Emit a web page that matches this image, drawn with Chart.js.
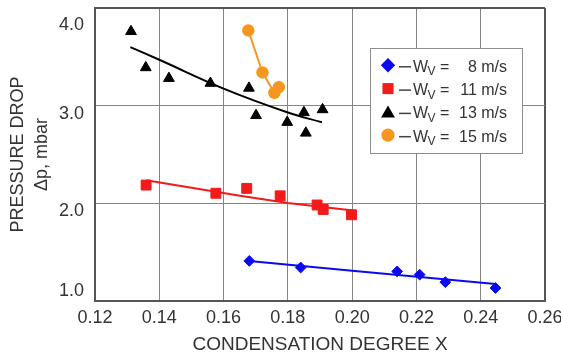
<!DOCTYPE html>
<html><head><meta charset="utf-8">
<script src="https://cdn.jsdelivr.net/npm/chart.js@4.4.1/dist/chart.umd.min.js"></script>
<style>html,body{margin:0;padding:0;background:#fff;}#wrap{width:561px;height:360px;}</style>
</head><body><div id="wrap"><canvas id="c" width="561" height="360"></canvas></div>
<script>
// ---- data ----
const xTicks = [0.12, 0.14, 0.16, 0.18, 0.20, 0.22, 0.24, 0.26];
const yTicks = [1.0, 2.0, 3.0, 4.0];
const xTitle = 'CONDENSATION DEGREE X';
const yTitle = ['PRESSURE DROP', 'Δp, mbar'];
const speedLabels = ['8 m/s', '11 m/s', '13 m/s', '15 m/s'];

const x8 = [0.168, 0.184, 0.214, 0.221, 0.229, 0.2446];
const y8 = [1.41, 1.343, 1.303, 1.27, 1.193, 1.133];
const fit8X = [0.168, 0.200, 0.2446];
const fit8Y = [1.41, 1.31, 1.175];

const x11 = [0.1359, 0.1576, 0.1672, 0.1776, 0.1891, 0.1910, 0.1998];
const y11 = [2.187, 2.103, 2.153, 2.077, 1.983, 1.937, 1.883];
const fit11X = [0.1359, 0.1651, 0.18, 0.2003];
const fit11Y = [2.237, 2.077, 2.003, 1.927];

const x13 = [0.1312, 0.1358, 0.1430, 0.1559, 0.1679, 0.1701, 0.1798, 0.1850, 0.1856, 0.1908];
const y13 = [3.76, 3.39, 3.28, 3.23, 3.18, 2.90, 2.83, 2.93, 2.72, 2.96];
const fit13X = [0.1310, 0.14, 0.16, 0.18, 0.1906];
const fit13Y = [3.60, 3.47, 3.175, 2.93, 2.83];

const x15 = [0.1677, 0.1721, 0.1758, 0.1772];
const y15 = [3.77, 3.34, 3.13, 3.19];

const pts = (xs, ys) => xs.map((x, i) => ({x: x, y: ys[i]}));

const BLUE = '#0a0af0', RED = '#f21a1a', BLACK = '#000000', ORANGE = '#f7961e';
const TXT = '#333333';

const datasets = [
  {data: pts(x8, y8), pointStyle: 'rectRot', pointRadius: 5.4, backgroundColor: BLUE, borderColor: BLUE, pointBorderWidth: 1, showLine: false, order: 1, legendIndex: 0, legendRadius: 7.2},
  {data: pts(x11, y11), pointStyle: 'rect', pointRadius: 7.0, backgroundColor: RED, borderColor: RED, pointBorderWidth: 1, showLine: false, order: 1, legendIndex: 1, legendRadius: 7.8},
  {data: pts(x13, y13), pointStyle: 'triangle', pointRadius: 6.2, backgroundColor: BLACK, borderColor: BLACK, pointBorderWidth: 1, showLine: false, order: 1, legendIndex: 2, legendRadius: 8},
  {data: pts(x15, y15), pointStyle: 'circle', pointRadius: 6.2, backgroundColor: ORANGE, borderColor: ORANGE, pointBorderWidth: 0, showLine: true, borderWidth: 2, order: 1, legendIndex: 3, legendRadius: 6.6},
  {data: pts(fit8X, fit8Y), pointRadius: 0, borderColor: BLUE, borderWidth: 2, showLine: true, order: 2},
  {data: pts(fit11X, fit11Y), pointRadius: 0, borderColor: RED, borderWidth: 2, showLine: true, order: 2},
  {data: pts(fit13X, fit13Y), pointRadius: 0, borderColor: BLACK, borderWidth: 2, showLine: true, tension: 0.4, order: 2}
];

const legendPlugin = {
  id: 'wvLegend',
  afterDraw(chart) {
    const ctx = chart.ctx, a = chart.chartArea;
    const bx = a.right - 175, by = a.top + 40, bw = 152, bh = 105;
    ctx.save();
    ctx.fillStyle = '#ffffff';
    ctx.fillRect(bx, by, bw, bh);
    ctx.strokeStyle = '#8c8c8c'; ctx.lineWidth = 1;
    ctx.strokeRect(bx + 0.5, by + 0.5, bw, bh);
    const items = chart.data.datasets.filter(d => d.legendIndex !== undefined);
    items.forEach(ds => {
      const i = ds.legendIndex;
      const cy = by + 17.3 + i * 23.3;
      const mx = bx + 18;
      ctx.fillStyle = ds.backgroundColor; ctx.strokeStyle = ds.backgroundColor;
      const my = ds.pointStyle === 'triangle' ? cy + 1.5 : cy;
      const opts = {pointStyle: ds.pointStyle, radius: ds.legendRadius, rotation: 0, borderWidth: 0};
      if (Chart.helpers && Chart.helpers.drawPoint) {
        Chart.helpers.drawPoint(ctx, opts, mx, my);
      } else {
        ctx.beginPath(); ctx.arc(mx, my, ds.legendRadius, 0, Math.PI * 2); ctx.fill();
      }
      ctx.strokeStyle = '#444'; ctx.lineWidth = 1.5;
      ctx.beginPath(); ctx.moveTo(bx + 29, cy + 1.5); ctx.lineTo(bx + 41, cy + 1.5); ctx.stroke();
      ctx.fillStyle = TXT; ctx.textBaseline = 'alphabetic';
      ctx.textAlign = 'left';
      ctx.font = '16px "Liberation Sans", Arial, sans-serif';
      const wx = bx + 43;
      ctx.fillText('W', wx, cy + 6.5);
      const ww = ctx.measureText('W').width;
      ctx.font = '12px "Liberation Sans", Arial, sans-serif';
      ctx.fillText('V', wx + ww - 0.5, cy + 10);
      ctx.font = '16px "Liberation Sans", Arial, sans-serif';
      ctx.fillText('=', bx + 70, cy + 6.5);
      ctx.textAlign = 'right';
      ctx.fillText(speedLabels[i], bx + 137, cy + 6.5);
    });
    ctx.restore();
  }
};

const edgeColor = '#555555', gridColor = '#858585';

new Chart(document.getElementById('c'), {
  type: 'scatter',
  data: {datasets: datasets},
  options: {
    responsive: false,
    animation: false,
    events: [],
    devicePixelRatio: 1,
    layout: {padding: {top: 1, right: 16, bottom: 0, left: 0}},
    plugins: {legend: {display: false}, tooltip: {enabled: false}, title: {display: false}},
    scales: {
      x: {
        type: 'linear', min: 0.12, max: 0.26,
        afterBuildTicks: s => { s.ticks = xTicks.map(v => ({value: v})); },
        afterFit: s => { s.height = 59; s.paddingLeft = 0; s.paddingRight = 0; },
        ticks: {
          callback: v => Number(v).toFixed(2), autoSkip: false, maxRotation: 0,
          color: TXT, padding: 6, font: {family: '"Liberation Sans", Arial, sans-serif', size: 18}
        },
        grid: {
          drawTicks: false,
          color: c => (c.index === xTicks.length - 1 ? edgeColor : gridColor),
          lineWidth: c => (c.index === xTicks.length - 1 ? 2 : 1)
        },
        border: {display: true, color: edgeColor, width: 2},
        title: {
          display: true, text: xTitle, color: TXT, padding: {top: 0, bottom: 4},
          font: {family: '"Liberation Sans", Arial, sans-serif', size: 19}
        }
      },
      y: {
        type: 'linear', min: 1, max: 4,
        afterBuildTicks: s => { s.ticks = yTicks.map(v => ({value: v})); },
        afterFit: s => { s.width = 95; s.paddingTop = 0; s.paddingBottom = 0; },
        ticks: {
          callback: v => {
            const t = Number(v).toFixed(1);
            if (v === yTicks[yTicks.length - 1]) return ['', t];
            if (v === yTicks[0]) return [t, '', ''];
            return t;
          },
          color: TXT, padding: 11, labelOffset: 8,
          font: {family: '"Liberation Sans", Arial, sans-serif', size: 18, lineHeight: 1}
        },
        grid: {
          drawTicks: false,
          color: c => (c.index === yTicks.length - 1 ? edgeColor : gridColor),
          lineWidth: c => (c.index === yTicks.length - 1 ? 2 : 1)
        },
        border: {display: true, color: edgeColor, width: 2},
        title: {
          display: true, text: yTitle, color: TXT, padding: {top: 6, bottom: 0},
          font: {family: '"Liberation Sans", Arial, sans-serif', size: 18, lineHeight: 1.333}
        }
      }
    }
  },
  plugins: [legendPlugin]
});
</script></body></html>
